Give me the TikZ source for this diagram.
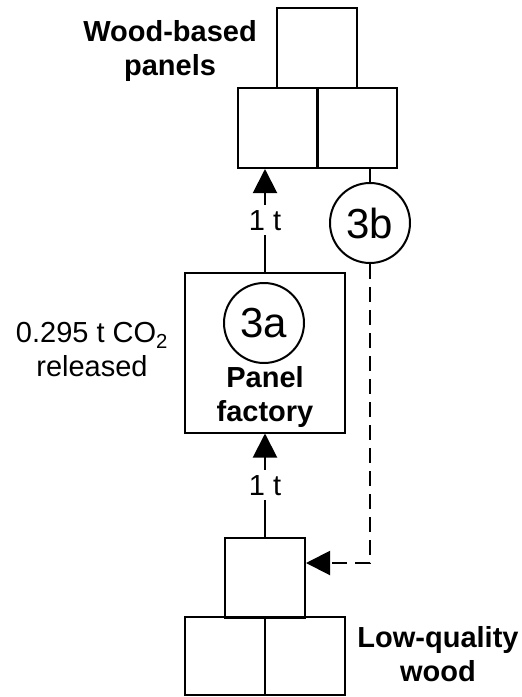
\documentclass[tikz,border=0pt]{standalone}
\usepackage{fontspec}
\setmainfont{Liberation Sans}
\usetikzlibrary{arrows.meta}

\begin{document}
\begin{tikzpicture}[x=1pt, y=-1pt,
  box/.style={draw, line width=2pt, minimum size=80pt, inner sep=0pt},
  proc/.style={circle, draw, line width=2pt, minimum size=80pt, inner sep=0pt, font=\fontsize{42}{46}\selectfont},
  txt/.style={align=center, inner sep=0pt, font=\fontsize{29}{34}\selectfont},
  ton/.style={fill=white, inner xsep=2pt, inner ysep=5pt, font=\fontsize{29}{34}\selectfont},
  flow/.style={line width=2pt, -{Triangle[length=24pt,width=24pt]}},
  backflow/.style={line width=2pt, dash pattern=on 15pt off 8pt, -{Triangle[length=24pt,width=24pt]}}]

\useasboundingbox (0,0) rectangle (522,697);

% Wood-based panels
\node[box] (wbtop) at (317,48) {};
\node[box] (wbleft) at (277.5,128) {};
\node[box] (wbright) at (357,128) {};
\node[txt, font=\fontsize{29}{34}\selectfont\bfseries] (wblabel) at (170,51) {Wood-based\\panels};

% Panel factory
\node[box, minimum size=160pt] (factory) at (265,352.5) {};
\node[proc] (p3a) at (264,323) {3a};
\node[txt, font=\fontsize{29}{34}\selectfont\bfseries] (factorylabel) at (265,397) {Panel\\factory};
\node[txt] (co2) at (92,350) {0.295 t CO\textsubscript{2}\\released};

% Low-quality wood
\node[box] (lqtop) at (265,578) {};
\node[box, minimum height=78pt] (lqleft) at (225,656) {};
\node[box, minimum height=78pt] (lqright) at (305,656) {};
\node[txt, font=\fontsize{29}{34}\selectfont\bfseries] (lqlabel) at (438,654) {Low-quality\\wood};

% Flows
\draw[flow] (lqtop.north) -- node[ton] (ton1) {1 t} (factory.south);
\draw[flow] (factory.north) -- node[ton] (ton2) {1 t} (factory.north |- wbleft.south);
\node[proc] (p3b) at (370,223) {3b};
\draw[line width=2pt] (p3b.north) -- (p3b.north |- wbright.south);
\draw[backflow] (p3b.south) |- ([yshift=15pt]lqtop.east);
\end{tikzpicture}
\end{document}
